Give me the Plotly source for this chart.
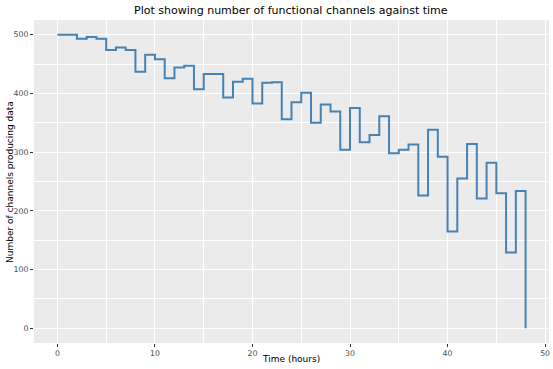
import plotly.graph_objects as go

hours = list(range(0, 49))
channels = [500, 500, 493, 496, 493, 474, 478, 474, 437, 466,
            458, 426, 444, 447, 407, 433, 433, 393, 420, 425,
            383, 418, 419, 356, 385, 401, 350, 381, 369, 304,
            375, 317, 329, 361, 298, 304, 313, 226, 338, 292,
            165, 255, 314, 221, 282, 230, 129, 234, 0]

title_text = "Plot showing number of functional channels against time"
x_title = "Time (hours)"
y_title = "Number of channels producing data"

W, H = 553, 369
L, R, T, B = 34, 4, 20, 26
pw, ph = W - L - R, H - T - B

def px_x(px):
    return (px - L) / pw

def px_y(py):
    return (H - B - py) / ph

fig = go.Figure()
fig.add_trace(go.Scatter(
    x=hours, y=channels, mode="lines",
    line=dict(shape="hv", color="#4682B4", width=2),
    showlegend=False, hoverinfo="skip",
))

font_family = "DejaVu Sans"
axis_common = dict(
    showgrid=True, gridcolor="white", gridwidth=1.1,
    zeroline=False, showline=False, automargin=False,
    ticks="outside", ticklen=3, tickwidth=1, tickcolor="#333333",
    tickfont=dict(family=font_family, size=7.8, color="#4D4D4D"),
    minor=dict(showgrid=True, gridcolor="white", gridwidth=0.5, ticks=""),
)

fig.update_layout(
    width=W, height=H,
    paper_bgcolor="white", plot_bgcolor="#EBEBEB",
    margin=dict(l=L, r=R, t=T, b=B, autoexpand=False),
    font=dict(family=font_family),
    annotations=[
        dict(text=title_text, xref="paper", yref="paper",
             x=px_x(291), y=px_y(10), xanchor="center", yanchor="middle",
             showarrow=False, font=dict(family=font_family, size=11, color="black")),
        dict(text=x_title, xref="paper", yref="paper",
             x=px_x(291), y=px_y(359), xanchor="center", yanchor="middle",
             showarrow=False, font=dict(family=font_family, size=9, color="black")),
        dict(text=y_title, xref="paper", yref="paper",
             x=px_x(10), y=px_y(182), xanchor="center", yanchor="middle",
             textangle=-90,
             showarrow=False, font=dict(family=font_family, size=9, color="black")),
    ],
)
fig.update_xaxes(range=[-2.4, 50.4], tickvals=[0, 10, 20, 30, 40, 50], **axis_common)
fig.update_yaxes(range=[-25, 525], tickvals=[0, 100, 200, 300, 400, 500], **axis_common)
fig.update_xaxes(minor=dict(tickvals=[5, 15, 25, 35, 45]))
fig.update_yaxes(minor=dict(tickvals=[50, 150, 250, 350, 450]))

fig.write_html("out.html", config={"displayModeBar": False},
               post_script="document.body.style.margin='0';document.body.style.overflow='hidden';")
